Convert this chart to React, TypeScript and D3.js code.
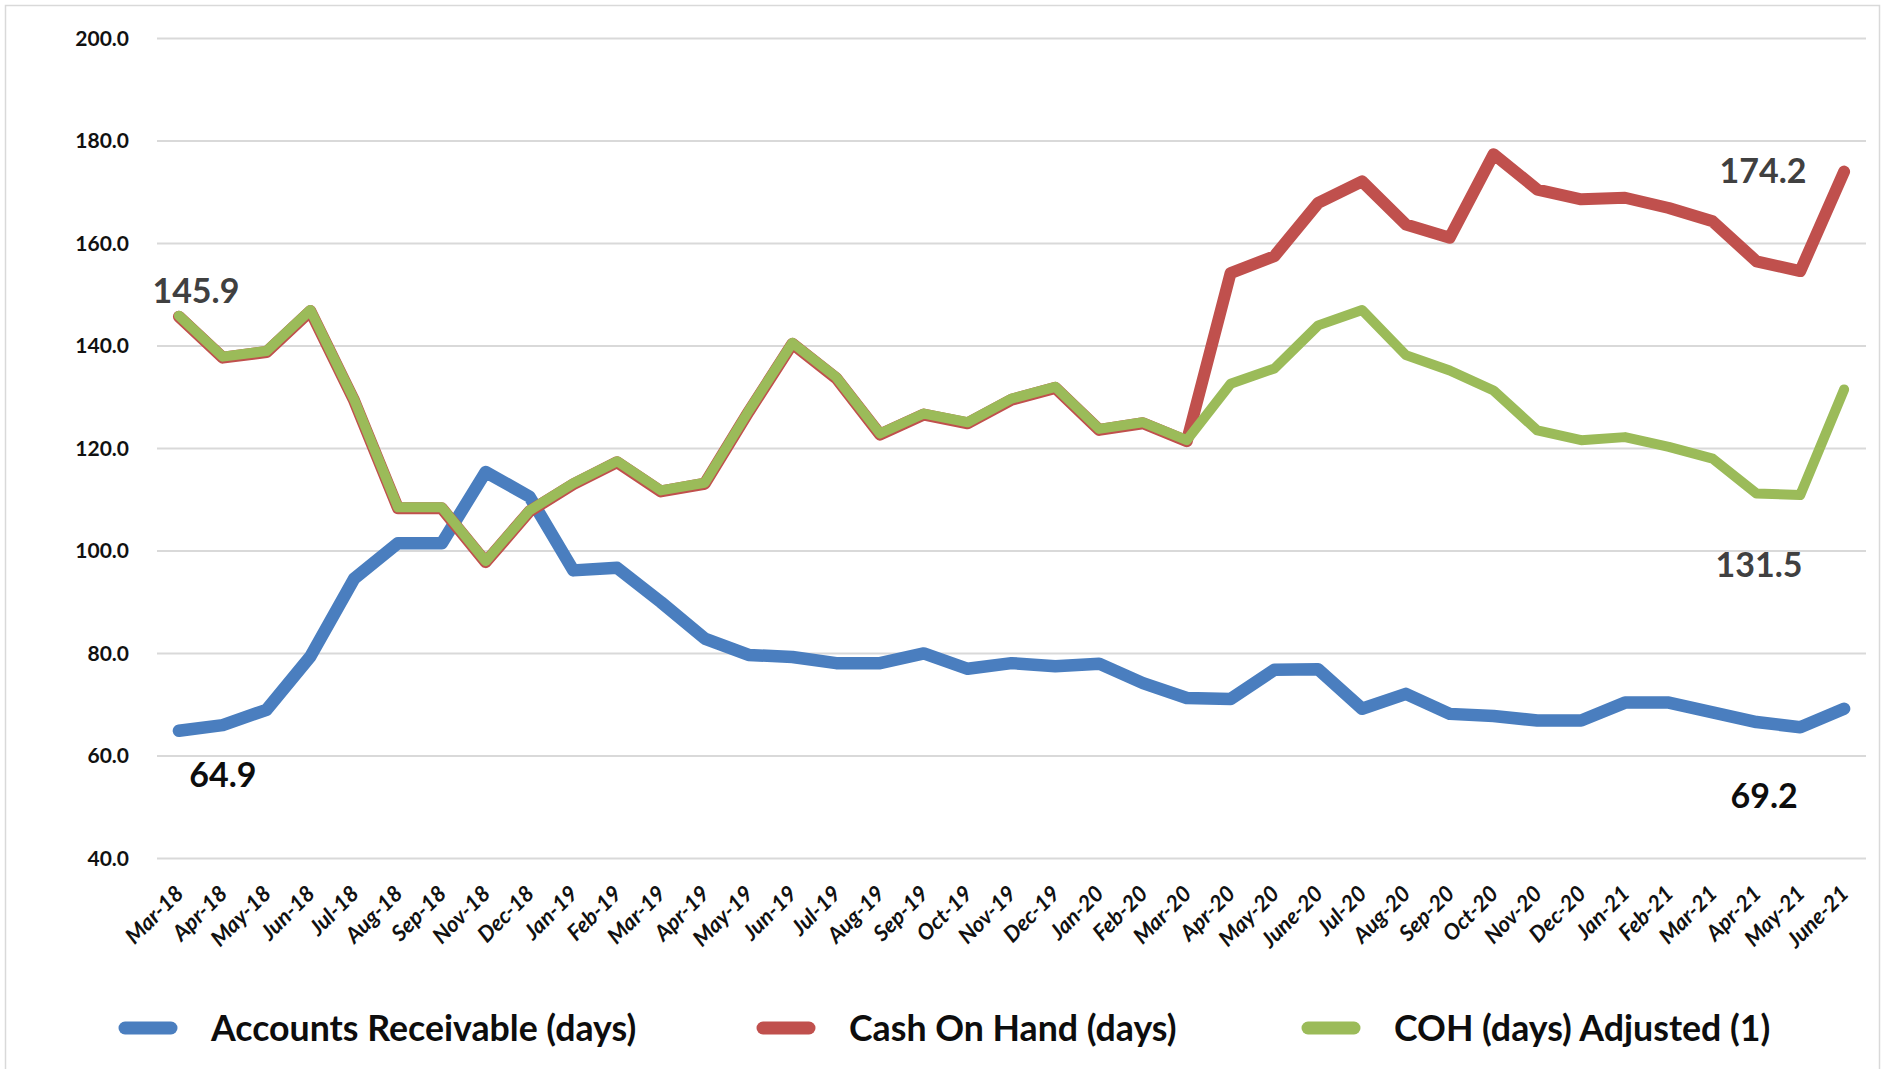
import React from 'react';
import * as d3 from 'd3';

const W = 1883;
const H = 1069;

const categories = [
  'Mar-18', 'Apr-18', 'May-18', 'Jun-18', 'Jul-18', 'Aug-18', 'Sep-18', 'Nov-18', 'Dec-18',
  'Jan-19', 'Feb-19', 'Mar-19', 'Apr-19', 'May-19', 'Jun-19', 'Jul-19', 'Aug-19', 'Sep-19',
  'Oct-19', 'Nov-19', 'Dec-19', 'Jan-20', 'Feb-20', 'Mar-20', 'Apr-20', 'May-20', 'June-20',
  'Jul-20', 'Aug-20', 'Sep-20', 'Oct-20', 'Nov-20', 'Dec-20', 'Jan-21', 'Feb-21', 'Mar-21',
  'Apr-21', 'May-21', 'June-21'
];

const accountsReceivable = [
  64.9, 66.0, 69.0, 79.4, 94.6, 101.5, 101.5, 115.4, 110.6, 96.2, 96.7, 90.0, 82.9,
  79.7, 79.3, 78.1, 78.1, 80.0, 77.0, 78.1, 77.5, 78.0, 74.2, 71.3, 71.1, 76.8,
  76.9, 69.2, 72.1, 68.2, 67.8, 66.9, 66.9, 70.4, 70.4, 68.5, 66.6, 65.6, 69.2
];

const cashOnHand = [
  145.9, 137.9, 139.0, 147.0, 129.5, 108.5, 108.5, 98.0, 107.9, 113.2, 117.5, 111.8, 113.3,
  127.3, 140.6, 133.9, 122.9, 126.8, 125.1, 129.7, 132.0, 123.8, 125.1, 121.6, 154.4, 157.7,
  168.1, 172.3, 163.9, 161.3, 177.6, 170.7, 168.8, 169.1, 167.1, 164.5, 156.7, 154.8, 174.2
];

const cohAdjusted = [
  145.9, 137.9, 139.0, 147.0, 129.5, 108.5, 108.5, 98.0, 107.9, 113.2, 117.5, 111.8, 113.3,
  127.3, 140.6, 133.9, 122.9, 126.8, 125.1, 129.7, 132.0, 123.8, 125.1, 121.6, 132.6, 135.6,
  144.0, 147.0, 138.2, 135.2, 131.3, 123.5, 121.6, 122.2, 120.3, 118.0, 111.2, 110.9, 131.5
];

const seriesNames = ['Accounts Receivable (days)', 'Cash On Hand (days)', 'COH (days) Adjusted (1)'];
const seriesColors = ['#4a7ebf', '#c0504d', '#9bbb59'];

const yDomain = [40, 200];

const FONT = 'Lato, "Open Sans", sans-serif';

export default function App() {
  const x = d3.scaleBand().domain(categories).range([157, 1866]);
  const cx = (c) => x(c) + x.bandwidth() / 2;
  const y = d3.scaleLinear().domain(yDomain).range([858.4, 38.4]);

  const line = d3.line()
    .x((d, i) => cx(categories[i]))
    .y((d) => y(d));

  const last = categories.length - 1;
  // value labels at the first and last points, offsets as placed in the original
  const labels = [
    { v: cohAdjusted[0], i: 0, dx: 17, dy: -13, color: '#404040' },
    { v: accountsReceivable[0], i: 0, dx: 44, dy: 56, color: '#0d0d0d' },
    { v: cashOnHand[last], i: last, dx: -81, dy: 12.5, color: '#404040' },
    { v: cohAdjusted[last], i: last, dx: -85, dy: 188, color: '#404040' },
    { v: accountsReceivable[last], i: last, dx: -80, dy: 99, color: '#0d0d0d' },
  ];

  const legendX = [119, 757, 1302];

  return (
    <>
      <style>{'body{margin:0;overflow:hidden}'}</style>
      <svg width={W} height={H} style={{ display: 'block', background: '#fff' }} fontFamily={FONT}>
        <rect x={5.5} y={5.5} width={1874} height={1100} fill="#fff" stroke="#d9d9d9" strokeWidth={1.5} />

        {y.ticks(8).map((t) => (
          <g key={t}>
            <line x1={157} x2={1866} y1={y(t)} y2={y(t)} stroke="#d9d9d9" strokeWidth={2} />
            <text x={129} y={y(t)} dy="0.36em" textAnchor="end" fontSize={21} fontWeight="bold" fill="#111">
              {d3.format('.1f')(t)}
            </text>
          </g>
        ))}

        {categories.map((c) => (
          <text
            key={c}
            transform={`translate(${cx(c) + 6},${895}) rotate(-45)`}
            textAnchor="end"
            fontSize={22}
            fontWeight="bold"
            fontStyle="italic"
            fill="#111"
          >
            {c}
          </text>
        ))}

        <path d={line(accountsReceivable)} fill="none" stroke={seriesColors[0]} strokeWidth={12.5}
          strokeLinejoin="round" strokeLinecap="round" />
        <path d={line(cashOnHand)} transform="translate(0,1)" fill="none" stroke={seriesColors[1]} strokeWidth={12}
          strokeLinejoin="round" strokeLinecap="round" />
        <path d={line(cohAdjusted)} fill="none" stroke={seriesColors[2]} strokeWidth={10}
          strokeLinejoin="round" strokeLinecap="round" />

        {labels.map((l, k) => (
          <text key={k} x={cx(categories[l.i]) + l.dx} y={y(l.v) + l.dy} textAnchor="middle"
            fontSize={34} fontWeight="bold" fill={l.color}>
            {d3.format('.1f')(l.v)}
          </text>
        ))}

        {seriesNames.map((name, k) => (
          <g key={name} transform={`translate(${legendX[k]},1028)`}>
            <line x1={6} x2={52} y1={0} y2={0} stroke={seriesColors[k]} strokeWidth={13} strokeLinecap="round" />
            <text x={92} y={0} dy="0.36em" fontSize={35.7} fontWeight="bold" fill="#0d0d0d">{name}</text>
          </g>
        ))}
      </svg>
    </>
  );
}
